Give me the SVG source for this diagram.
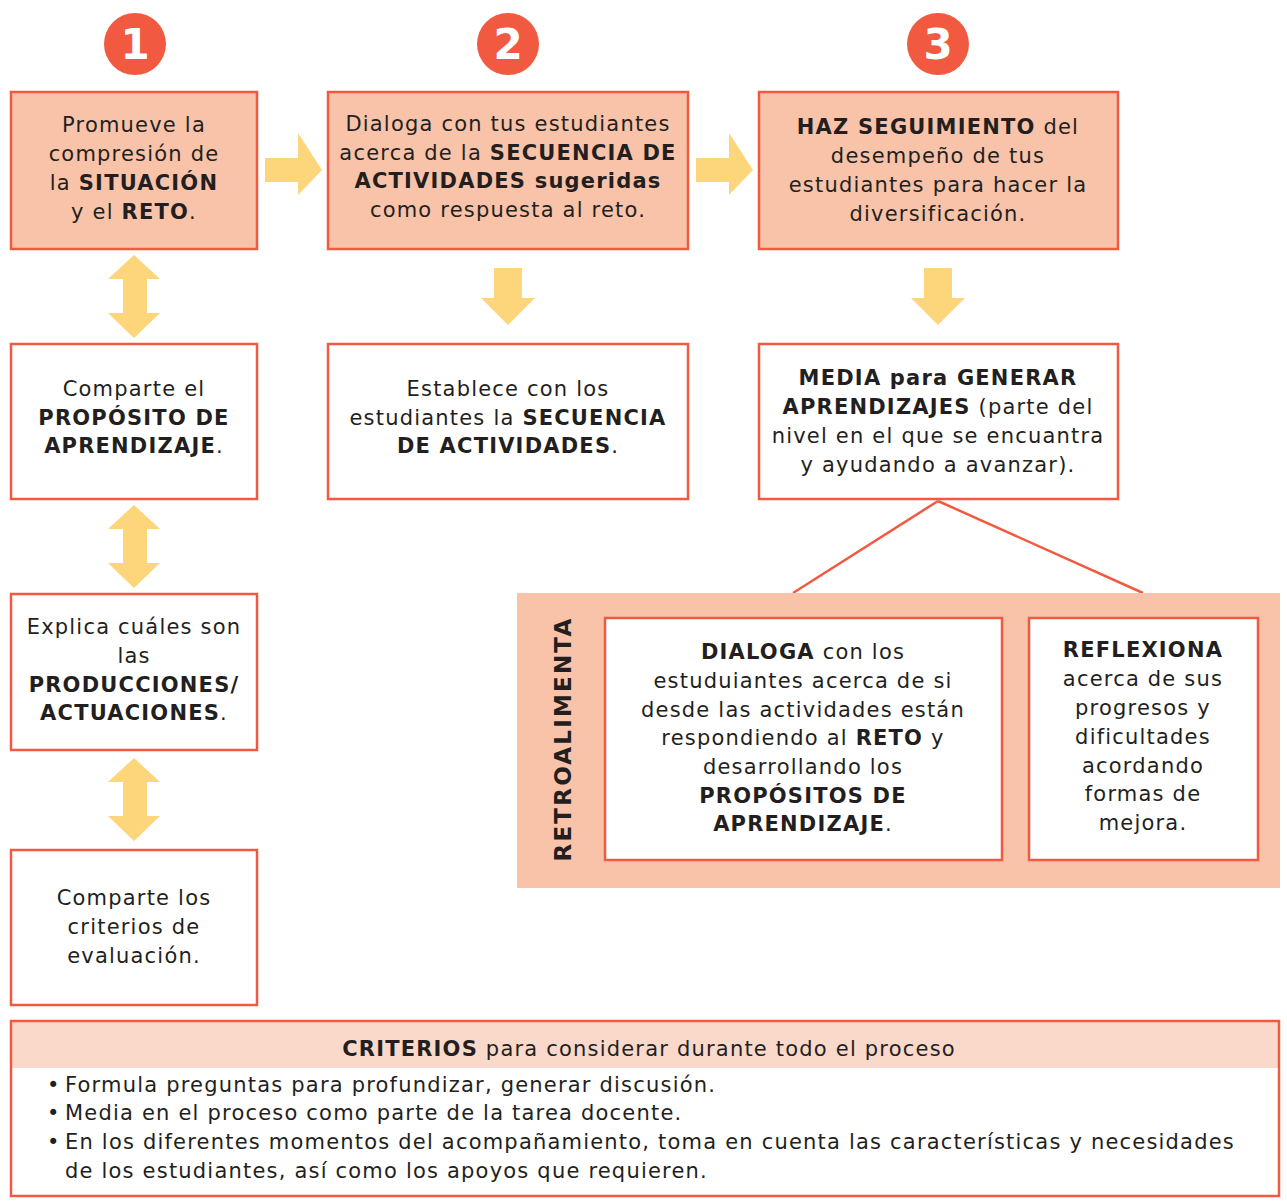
<svg xmlns="http://www.w3.org/2000/svg" width="1287" height="1204" viewBox="0 0 1287 1204">
<style>
.t{font-family:"DejaVu Sans","Open Sans",sans-serif;font-size:21px;letter-spacing:1.2px;fill:#231F20;text-anchor:middle}
.l{text-anchor:start}
.b{font-weight:bold}
.fill{fill:#F9C3AA;stroke:#F15A40;stroke-width:2.5}
.wht{fill:#fff;stroke:#F15A40;stroke-width:2.5}
.num{font-family:"DejaVu Sans","Open Sans",sans-serif;font-size:42px;font-weight:bold;fill:#fff;text-anchor:middle}
.arr{fill:#FDD57A}
.ln{stroke:#F15A40;stroke-width:2.5;fill:none}
</style>
<defs>
<path id="dbl" class="arr" d="M0,0 L26,24 L13,24 L13,58 L26,58 L0,83 L-26,58 L-11,58 L-11,24 L-26,24 Z"/>
<path id="rt" class="arr" d="M0,13 L33,13 L33,-12 L57,25 L33,50 L33,37 L0,37 Z"/>
<path id="dn" class="arr" d="M-14,0 L14,0 L14,30 L27,30 L0,57 L-27,30 L-14,30 Z"/>
</defs>
<g id="num1"><circle cx="135" cy="44" r="31" fill="#F15A40"/><text class="num" x="135" y="59">1</text></g>
<g id="num2"><circle cx="508" cy="44" r="31" fill="#F15A40"/><text class="num" x="508" y="59">2</text></g>
<g id="num3"><circle cx="938" cy="44" r="31" fill="#F15A40"/><text class="num" x="938" y="59">3</text></g>

<g id="connectors">
<use href="#rt" x="265" y="145"/>
<use href="#rt" x="696" y="145"/>
<use href="#dn" x="508" y="268"/>
<use href="#dn" x="938" y="268"/>
<use href="#dbl" x="134" y="255"/>
<use href="#dbl" x="134" y="505"/>
<use href="#dbl" x="134" y="758"/>
<line class="ln" x1="938" y1="501" x2="793" y2="593"/>
<line class="ln" x1="938" y1="501" x2="1143" y2="593"/>
</g>

<g id="box1"><rect class="fill" x="11" y="92" width="246" height="157"/>
<text class="t"><tspan x="134" y="132">Promueve la</tspan><tspan x="134" y="161">compresión de</tspan><tspan x="134" y="190">la <tspan class="b">SITUACIÓN</tspan></tspan><tspan x="134" y="219">y el <tspan class="b">RETO</tspan>.</tspan></text></g>

<g id="box2"><rect class="fill" x="328" y="92" width="360" height="157"/>
<text class="t"><tspan x="508" y="131">Dialoga con tus estudiantes</tspan><tspan x="508" y="160">acerca de la <tspan class="b">SECUENCIA DE</tspan></tspan><tspan x="508" y="188" class="b">ACTIVIDADES sugeridas</tspan><tspan x="508" y="217">como respuesta al reto.</tspan></text></g>

<g id="box3"><rect class="fill" x="759" y="92" width="359" height="157"/>
<text class="t"><tspan x="938" y="134"><tspan class="b">HAZ SEGUIMIENTO</tspan> del</tspan><tspan x="938" y="163">desempeño de tus</tspan><tspan x="938" y="192">estudiantes para hacer la</tspan><tspan x="938" y="221">diversificación.</tspan></text></g>

<g id="box4"><rect class="wht" x="11" y="344" width="246" height="155"/>
<text class="t"><tspan x="134" y="396">Comparte el</tspan><tspan x="134" y="425" class="b">PROPÓSITO DE</tspan><tspan x="134" y="453"><tspan class="b">APRENDIZAJE</tspan>.</tspan></text></g>

<g id="box5"><rect class="wht" x="328" y="344" width="360" height="155"/>
<text class="t"><tspan x="508" y="396">Establece con los</tspan><tspan x="508" y="425">estudiantes la <tspan class="b">SECUENCIA</tspan></tspan><tspan x="508" y="453"><tspan class="b">DE ACTIVIDADES</tspan>.</tspan></text></g>

<g id="box6"><rect class="wht" x="759" y="344" width="359" height="155"/>
<text class="t"><tspan x="938" y="385" class="b">MEDIA para GENERAR</tspan><tspan x="938" y="414"><tspan class="b">APRENDIZAJES</tspan> (parte del</tspan><tspan x="938" y="443">nivel en el que se encuantra</tspan><tspan x="938" y="472">y ayudando a avanzar).</tspan></text></g>

<g id="box7"><rect class="wht" x="11" y="594" width="246" height="156"/>
<text class="t"><tspan x="134" y="634">Explica cuáles son</tspan><tspan x="134" y="663">las</tspan><tspan x="134" y="692" class="b">PRODUCCIONES/</tspan><tspan x="134" y="720"><tspan class="b">ACTUACIONES</tspan>.</tspan></text></g>

<g id="box8"><rect class="wht" x="11" y="850" width="246" height="155"/>
<text class="t"><tspan x="134" y="905">Comparte los</tspan><tspan x="134" y="934">criterios de</tspan><tspan x="134" y="963">evaluación.</tspan></text></g>

<g id="retro"><rect x="517" y="593" width="763" height="295" fill="#F9C3AA"/>
<text class="t b" style="font-size:23px;letter-spacing:2.2px" transform="translate(571,739) rotate(-90)" x="0" y="0">RETROALIMENTA</text></g>

<g id="box9"><rect class="wht" x="605" y="618" width="397" height="242"/>
<text class="t"><tspan x="803" y="659"><tspan class="b">DIALOGA</tspan> con los</tspan><tspan x="803" y="688">estuduiantes acerca de si</tspan><tspan x="803" y="717">desde las actividades están</tspan><tspan x="803" y="745">respondiendo al <tspan class="b">RETO</tspan> y</tspan><tspan x="803" y="774">desarrollando los</tspan><tspan x="803" y="803" class="b">PROPÓSITOS DE</tspan><tspan x="803" y="831"><tspan class="b">APRENDIZAJE</tspan>.</tspan></text></g>

<g id="box10"><rect class="wht" x="1029" y="618" width="229" height="242"/>
<text class="t"><tspan x="1143" y="657" class="b">REFLEXIONA</tspan><tspan x="1143" y="686">acerca de sus</tspan><tspan x="1143" y="715">progresos y</tspan><tspan x="1143" y="744">dificultades</tspan><tspan x="1143" y="773">acordando</tspan><tspan x="1143" y="801">formas de</tspan><tspan x="1143" y="830">mejora.</tspan></text></g>

<g id="criterios"><rect x="11" y="1021" width="1268" height="47" fill="#FAD9CB"/>
<rect x="11" y="1021" width="1268" height="175" fill="none" stroke="#F15A40" stroke-width="2.5"/>
<text class="t" x="649" y="1056"><tspan class="b">CRITERIOS</tspan> para considerar durante todo el proceso</text>
<text class="t l"><tspan x="47" y="1092">•</tspan><tspan x="65" y="1092">Formula preguntas para profundizar, generar discusión.</tspan><tspan x="47" y="1120">•</tspan><tspan x="65" y="1120">Media en el proceso como parte de la tarea docente.</tspan><tspan x="47" y="1149">•</tspan><tspan x="65" y="1149">En los diferentes momentos del acompañamiento, toma en cuenta las características y necesidades</tspan><tspan x="65" y="1178">de los estudiantes, así como los apoyos que requieren.</tspan></text></g>
</svg>
